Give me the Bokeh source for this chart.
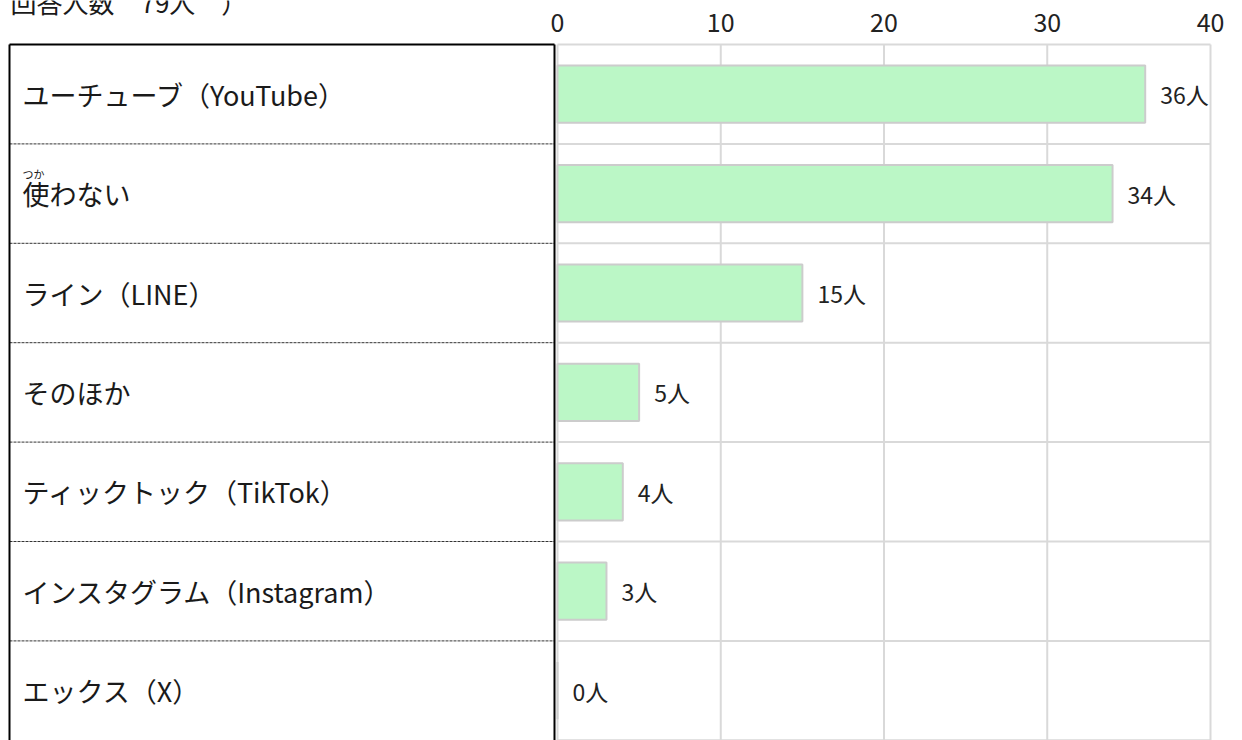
from bokeh.plotting import figure
from bokeh.models import Range1d, ColumnDataSource
from bokeh.core.properties import value
from bokeh.embed import file_html
from bokeh.resources import INLINE

# ---- data ----
categories = ["ユーチューブ（YouTube）", "使わない", "ライン（LINE）", "そのほか",
              "ティックトック（TikTok）", "インスタグラム（Instagram）", "エックス（X）"]
counts = [36, 34, 15, 5, 4, 3, 0]
value_labels = [f"{v}人" for v in counts]
x_ticks = [0, 10, 20, 30, 40]
tick_labels = [str(t) for t in x_ticks]
title_text = "回答人数　79人　）"
furigana = "つか"

FONT = "Noto Sans CJK JP"
n = len(categories)
ys = [i + 0.5 for i in range(n)]
x_max = x_ticks[-1]

# layout constants (screen-derived)
W, H = 1242, 740
ZERO_PX, MAX_PX = 557, 1210
PX_PER_UNIT = (MAX_PX - ZERO_PX) / float(x_max)
TOP_PX = 44          # top of first row
ROW_PX = 99.4

def px_to_x(px):
    return (px - ZERO_PX) / PX_PER_UNIT

def py_to_y(py):
    return (py - TOP_PX) / ROW_PX

p = figure(width=W, height=H, output_backend="svg", toolbar_location=None,
           x_range=Range1d(px_to_x(0), px_to_x(W)),
           y_range=Range1d(py_to_y(H), py_to_y(0)),
           x_axis_location=None, y_axis_location=None,
           min_border=0)
p.outline_line_color = None
p.background_fill_color = "white"
p.border_fill_color = "white"
p.xgrid.visible = False
p.ygrid.visible = False

# vertical grid lines at the ticks, horizontal lines at row boundaries
bounds = list(range(n + 1))
p.segment(x0=x_ticks, x1=x_ticks, y0=[0] * len(x_ticks), y1=[n] * len(x_ticks),
          line_color="#d9d9d9", line_width=2)
p.segment(x0=[0] * len(bounds), x1=[x_max] * len(bounds), y0=bounds, y1=bounds,
          line_color="#d9d9d9", line_width=2)

# tick labels along the top
p.text(x=x_ticks, y=[py_to_y(22)] * len(x_ticks), text=tick_labels,
       text_align="center", text_baseline="middle",
       text_font=value(FONT), text_font_size="25px", text_color="#222222")

# table
tl, tr = px_to_x(9), px_to_x(554)
inner = list(range(1, n))
p.segment(x0=[tl] * len(inner), x1=[tr] * len(inner), y0=inner, y1=inner,
          line_color="#333333", line_width=1, line_dash="3 1")
p.segment(x0=[tl, tr, tl], x1=[tl, tr, tr], y0=[0, 0, 0], y1=[n, n, 0],
          line_color="black", line_width=2)

# bars
src = ColumnDataSource(dict(y=ys, v=counts, lab=value_labels, cat=categories))
p.hbar(y="y", left=0, right="v", height=0.575, source=src,
       fill_color="#bbf7c6", line_color="#cccccc", line_width=2)

p.text(x="v", y="y", text="lab", source=src, x_offset=15,
       text_baseline="middle", text_align="left",
       text_font=value(FONT), text_font_size="23px", text_color="#222222")

p.text(x=[px_to_x(22)] * n, y=ys, text=categories,
       text_baseline="middle", text_align="left",
       text_font=value(FONT), text_font_size="27px", text_color="#1a1a1a")

# furigana over 使
p.text(x=[px_to_x(22)], y=[ys[categories.index("使わない")]], text=[furigana],
       y_offset=-20, text_baseline="middle", text_align="left",
       text_font=value(FONT), text_font_size="11px", text_color="#1a1a1a")

# partially visible heading at the very top (cut by the page edge, as in the source)
p.text(x=[px_to_x(10)], y=[py_to_y(1)], text=[title_text],
       text_baseline="alphabetic", text_align="left",
       text_font=value(FONT), text_font_size="26px", text_color="#1a1a1a")

open("out.html", "w").write(file_html(p, INLINE))
